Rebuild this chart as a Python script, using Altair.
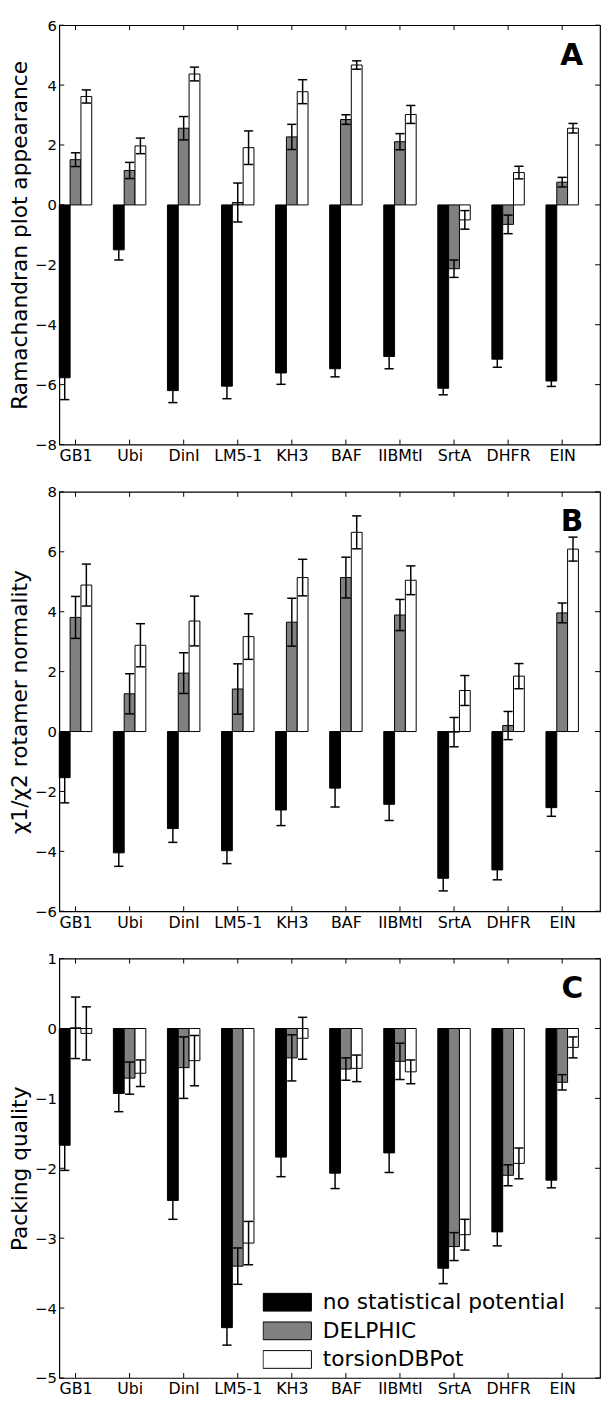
import altair as alt
import pandas as pd

categories = ["GB1", "Ubi", "DinI", "LM5-1", "KH3", "BAF", "IIBMtI", "SrtA", "DHFR", "EIN"]
series = ["no statistical potential", "DELPHIC", "torsionDBPot"]
series_colors = ["#000000", "#808080", "#ffffff"]

# Panel A: Ramachandran plot appearance
rama_none = [-5.77, -1.50, -6.20, -6.05, -5.61, -5.47, -5.06, -6.12, -5.15, -5.88]
rama_none_err = [0.73, 0.34, 0.40, 0.42, 0.38, 0.27, 0.41, 0.22, 0.27, 0.18]
rama_delphic = [1.51, 1.15, 2.56, 0.08, 2.27, 2.85, 2.11, -2.13, -0.65, 0.76]
rama_delphic_err = [0.23, 0.27, 0.39, 0.65, 0.42, 0.16, 0.27, 0.29, 0.31, 0.16]
rama_torsion = [3.62, 1.97, 4.37, 1.91, 3.78, 4.67, 3.02, -0.50, 1.08, 2.56]
rama_torsion_err = [0.22, 0.26, 0.23, 0.56, 0.40, 0.14, 0.30, 0.31, 0.21, 0.16]

# Panel B: chi1/chi2 rotamer normality
rot_none = [-1.54, -4.05, -3.24, -3.98, -2.62, -1.89, -2.43, -4.90, -4.62, -2.54]
rot_none_err = [0.84, 0.45, 0.46, 0.43, 0.52, 0.63, 0.54, 0.42, 0.33, 0.29]
rot_delphic = [3.81, 1.26, 1.95, 1.42, 3.65, 5.14, 3.89, -0.02, 0.20, 3.96]
rot_delphic_err = [0.70, 0.67, 0.68, 0.84, 0.80, 0.68, 0.52, 0.49, 0.47, 0.33]
rot_torsion = [4.89, 2.88, 3.69, 3.17, 5.14, 6.65, 5.05, 1.37, 1.85, 6.09]
rot_torsion_err = [0.70, 0.72, 0.83, 0.76, 0.61, 0.55, 0.48, 0.50, 0.42, 0.40]

# Panel C: packing quality
pack_none = [-1.67, -0.93, -2.46, -4.28, -1.84, -2.07, -1.78, -3.43, -2.91, -2.17]
pack_none_err = [0.36, 0.26, 0.27, 0.25, 0.28, 0.22, 0.28, 0.22, 0.20, 0.11]
pack_delphic = [0.01, -0.71, -0.56, -3.40, -0.42, -0.58, -0.47, -3.12, -2.10, -0.77]
pack_delphic_err = [0.44, 0.23, 0.44, 0.26, 0.33, 0.16, 0.26, 0.20, 0.15, 0.11]
pack_torsion = [-0.07, -0.64, -0.46, -3.07, -0.14, -0.57, -0.62, -2.95, -1.93, -0.27]
pack_torsion_err = [0.38, 0.19, 0.36, 0.31, 0.30, 0.19, 0.17, 0.22, 0.22, 0.15]

ticks_a = [-8, -6, -4, -2, 0, 2, 4, 6]
ticks_b = [-6, -4, -2, 0, 2, 4, 6, 8]
ticks_c = [-5, -4, -3, -2, -1, 0, 1]

W = 548
H = 425
FONT = "DejaVu Sans"
label_expr = "[" + ",".join("'" + c + "'" for c in categories) + "][datum.value]"


def panel(values, errors, ydom, yticks, ytitle, letter, show_legend):
    rows = []
    for s_i, s in enumerate(series):
        for c_i in range(len(categories)):
            rows.append({"cat": c_i, "series": s, "s": s_i,
                         "v": values[s_i][c_i], "e": errors[s_i][c_i]})
    df = pd.DataFrame(rows)
    base = alt.Chart(df).transform_calculate(
        xc="datum.cat + (datum.s - 1) * 0.2",
    ).transform_calculate(
        x0="datum.xc - 0.1",
        x1="datum.xc + 0.1",
        c0="datum.xc - 0.085",
        c1="datum.xc + 0.085",
        lo="datum.v - datum.e",
        hi="datum.v + datum.e",
        zero="0",
    )
    xscale = alt.Scale(domain=[-0.3, 9.7], nice=False, zero=False)
    yscale = alt.Scale(domain=ydom, nice=False, zero=False)
    xaxis = alt.Axis(values=list(range(len(categories))), labelExpr=label_expr,
                     ticks=False, domain=False, grid=False, labelFontSize=16,
                     labelPadding=3, labelFont=FONT, labelColor="black",
                     labelAngle=0, title=None)
    yaxis = alt.Axis(values=yticks, format="d", ticks=False, domain=False, grid=False,
                     labelFontSize=15, labelPadding=3, labelFont=FONT,
                     labelColor="black", title=ytitle, titleFontSize=22,
                     titleFont=FONT, titleFontWeight="normal", titleColor="black",
                     titlePadding=3)
    if show_legend:
        legend = alt.Legend(
            title=None, orient="none", legendX=206, legendY=334,
            symbolType="M-1,-0.367L1,-0.367L1,0.367L-1,0.367Z",
            symbolSize=2401, symbolStrokeColor="black", symbolStrokeWidth=1,
            symbolOpacity=1, labelFontSize=22, labelFont=FONT,
            labelColor="black", labelOffset=11, labelLimit=400,
            clipHeight=28.5, rowPadding=0, padding=0,
        )
    else:
        legend = None
    bars = base.mark_rect(stroke="black", strokeWidth=1).encode(
        x=alt.X("x0:Q", scale=xscale, axis=xaxis),
        x2="x1:Q",
        y=alt.Y("zero:Q", scale=yscale, axis=yaxis),
        y2="v:Q",
        fill=alt.Fill("series:N", scale=alt.Scale(domain=series, range=series_colors),
                      legend=legend, sort=series),
    )
    err = base.mark_rule(color="black", strokeWidth=1.5).encode(
        x="xc:Q", y="lo:Q", y2="hi:Q")
    cap_hi = base.mark_rule(color="black", strokeWidth=1.5).encode(
        x="c0:Q", x2="c1:Q", y="hi:Q")
    cap_lo = base.mark_rule(color="black", strokeWidth=1.5).encode(
        x="c0:Q", x2="c1:Q", y="lo:Q")

    ydf = pd.DataFrame({"t": yticks})
    xdf = pd.DataFrame({"c": list(range(len(categories)))})
    ytick_l = alt.Chart(ydf).mark_rule(color="black", strokeWidth=1).encode(
        y="t:Q", x=alt.value(0), x2=alt.value(5))
    ytick_r = alt.Chart(ydf).mark_rule(color="black", strokeWidth=1).encode(
        y="t:Q", x=alt.value(W - 5), x2=alt.value(W))
    xtick_b = alt.Chart(xdf).mark_rule(color="black", strokeWidth=1).encode(
        x="c:Q", y=alt.value(H - 5), y2=alt.value(H))
    xtick_t = alt.Chart(xdf).mark_rule(color="black", strokeWidth=1).encode(
        x="c:Q", y=alt.value(0), y2=alt.value(5))

    label = alt.Chart(pd.DataFrame({"t": [letter]})).mark_text(
        align="right", baseline="alphabetic", fontSize=30, fontWeight="bold",
        font=FONT, color="black",
    ).encode(text="t:N", x=alt.value(W - 17), y=alt.value(40))

    return alt.layer(bars, err, cap_hi, cap_lo, ytick_l, ytick_r, xtick_b, xtick_t,
                     label).properties(width=W, height=H)


pa = panel([rama_none, rama_delphic, rama_torsion],
           [rama_none_err, rama_delphic_err, rama_torsion_err],
           [-8, 6], ticks_a, "Ramachandran plot appearance", "A", False)
pb = panel([rot_none, rot_delphic, rot_torsion],
           [rot_none_err, rot_delphic_err, rot_torsion_err],
           [-6, 8], ticks_b, "χ1/χ2 rotamer normality", "B", False)
pc = panel([pack_none, pack_delphic, pack_torsion],
           [pack_none_err, pack_delphic_err, pack_torsion_err],
           [-5, 1], ticks_c, "Packing quality", "C", True)

chart = alt.vconcat(pa, pb, pc, spacing=20).resolve_scale(
    fill="independent").resolve_legend(fill="independent").properties(
    padding=0).configure_view(stroke="black", strokeWidth=1.2)

chart.save("out.html", embed_options={"renderer": "svg", "actions": False})
